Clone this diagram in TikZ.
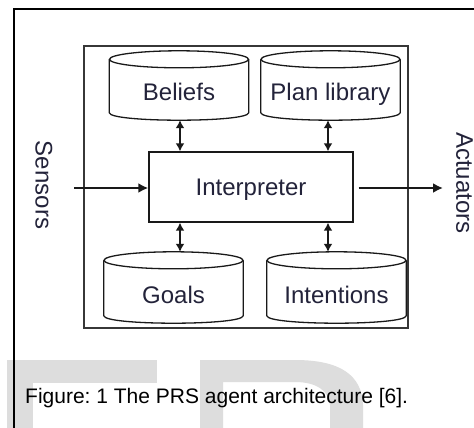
\documentclass[tikz,border=0pt]{standalone}
\usepackage{fontspec}
\setmainfont{Liberation Sans}
\usetikzlibrary{arrows.meta,calc}

\definecolor{lbl}{RGB}{35,35,58}
\definecolor{wm}{RGB}{221,221,221}
\definecolor{edge}{RGB}{25,25,25}
\definecolor{frame}{RGB}{55,55,55}

\tikzset{
  cylline/.style={draw=edge, line width=1.3pt},
  body/.style={inner sep=0pt, draw=none, minimum width=139pt},
  lbltext/.style={font=\fontsize{24}{28}\selectfont, text=lbl, inner sep=0pt},
  io/.style={draw=edge, line width=2.2pt, -{Latex[length=10pt,width=10pt]}},
  dbl/.style={draw=edge, line width=2.2pt,
    {Latex[length=8pt,width=9pt]}-{Latex[length=8pt,width=9pt]}},
}

% database drum drawn around a body node: top ellipse, sides, bottom arc
\newcommand\dbshape[1]{%
  \draw[cylline] (#1.north) ellipse [x radius=69.5pt, y radius=8.5pt];
  \draw[cylline] (#1.north west) -- ($(#1.south west)+(0,-7.5)$)
    .. controls ($(#1.south west)+(0,2.5)$) and ($(#1.south east)+(0,2.5)$)
    .. ($(#1.south east)+(0,-7.5)$) -- (#1.north east);
}

\begin{document}
\frenchspacing
\begin{tikzpicture}[x=1pt, y=-1pt]
\useasboundingbox (0,0) rectangle (474,428);
\fill[white] (0,0) rectangle (474,428);

% faint letters in the background
\fill[wm] (7,360) rectangle (33,428);
\fill[wm] (7,360) rectangle (157,383);
\fill[wm, even odd rule]
  (200,428) -- (200,360) -- (295,360)
    .. controls (340,360) and (362,375) .. (363,405) -- (363,428) -- cycle
  (223,428) -- (223,382) -- (295,382)
    .. controls (318,382) and (329,392) .. (330,405) -- (330,428) -- cycle;

% page frame
\draw[line width=1.9pt] (474,9) -- (14,9) -- (14,428);

% agent boundary
\node[draw=frame, line width=1.5pt, inner sep=0pt,
      minimum width=324pt, minimum height=282pt] (agent) at (246,187) {};

% interpreter
\node[draw=edge, line width=1.4pt, inner sep=0pt,
      minimum width=204pt, minimum height=70pt] (interp) at (251,187) {};
\node[lbltext, anchor=base] (interpT) at ($(interp.center)+(0,8)$) {Interpreter};

% data stores
\node[body, minimum height=60.5pt] (bel)  at (179,89.75)   {};
\node[body, minimum height=60.5pt] (plan) at (330.5,89.75) {};
\node[body, minimum height=62.5pt] (goal) at (173.5,291.75) {};
\node[body, minimum height=62.5pt] (intn) at (336.5,291.75) {};
\dbshape{bel}
\dbshape{plan}
\dbshape{goal}
\dbshape{intn}
\node[lbltext, anchor=base] (belT)  at ($(bel.center)+(0,10.25)$)  {Beliefs};
\node[lbltext, anchor=base] (planT) at ($(plan.center)+(0,10.25)$) {Plan library};
\node[lbltext, anchor=base] (goalT) at ($(goal.center)+(0,11.25)$) {Goals};
\node[lbltext, anchor=base] (intnT) at ($(intn.center)+(0,11.25)$) {Intentions};

% two-way links between stores and interpreter
\coordinate (ax1) at (180,0);
\coordinate (ax2) at (328,0);
\draw[dbl] (bel.south -| ax1) -- (interp.north -| ax1);
\draw[dbl] (plan.south -| ax2) -- (interp.north -| ax2);
\draw[dbl] (interp.south -| ax1) -- ($(goal.north -| ax1)+(0,-8.5)$);
\draw[dbl] (interp.south -| ax2) -- ($(intn.north -| ax2)+(0,-8.5)$);

% inputs and outputs
\node[lbltext, rotate=-90] (sens) at (44,185) {Sensors};
\node[lbltext, rotate=-90] (act)  at (464.5,183) {Actuators};
\coordinate (sin)  at (74,188);
\coordinate (aout) at (443,188);
\draw[io] (sin) -- (sin -| interp.west);
\draw[io] ($(interp.east |- aout)+(5,0)$) -- (aout);

% caption
\node[font=\fontsize{21}{25}\selectfont, anchor=base west, inner sep=0pt]
  (cap) at (25,403) {Figure: 1 The PRS agent architecture [6].};
\end{tikzpicture}
\end{document}
